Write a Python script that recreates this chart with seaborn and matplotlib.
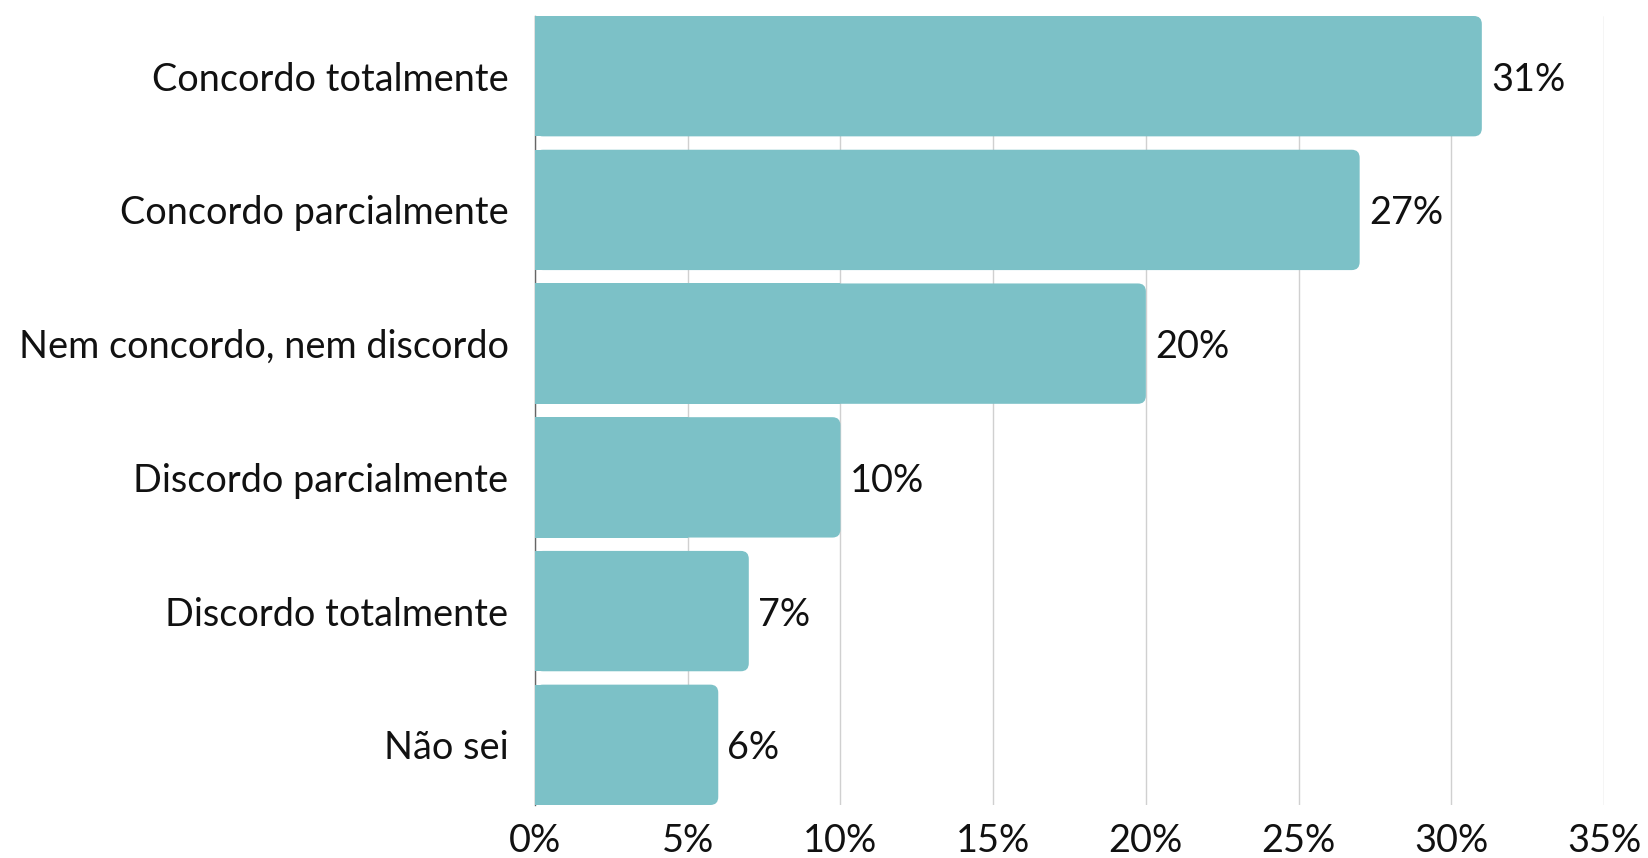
import matplotlib
matplotlib.use("Agg")
import matplotlib.pyplot as plt
import seaborn as sns
import pandas as pd
from matplotlib.patches import FancyBboxPatch, Rectangle
from matplotlib.ticker import FuncFormatter

categories = ["Concordo totalmente", "Concordo parcialmente", "Nem concordo, nem discordo",
              "Discordo parcialmente", "Discordo totalmente", "Não sei"]
values = [31, 27, 20, 10, 7, 6]
x_ticks = [0, 5, 10, 15, 20, 25, 30, 35]

sns.set_theme(style="white")
plt.rcParams['font.family'] = ['Lato', 'DejaVu Sans']

color = "#7cc1c7"
fs = 27.3
df = pd.DataFrame({"cat": categories, "val": values})

fig = plt.figure(figsize=(16.49, 8.58), dpi=100)
ax = fig.add_axes([535/1649, 1-805/858, (1604-535)/1649, (805-16)/858])
sns.barplot(data=df, y="cat", x="val", ax=ax, color=color, width=0.9, saturation=1, orient="h")

ax.set_xlim(0, 35)
ax.set_ylim(5.45, -0.45)
ax.set_xticks(x_ticks)
ax.xaxis.set_major_formatter(FuncFormatter(lambda v, p: f"{int(v)}%"))
ax.grid(axis="x", color="#d0d0d0", linewidth=1)
ax.set_axisbelow(True)
for s in ["top", "right", "bottom"]:
    ax.spines[s].set_visible(False)
ax.spines["left"].set_color("#666666")
ax.spines["left"].set_linewidth(1)
ax.tick_params(axis="y", length=0, pad=19, labelsize=fs, labelcolor="#111111")
ax.tick_params(axis="x", length=0, pad=13, labelsize=fs, labelcolor="#111111")
ax.set_xlabel("")
ax.set_ylabel("")

rx = 0.26
aspect = 0.06 / 0.26
patches = list(ax.patches)
for p in patches:
    x0, y0 = p.get_x(), p.get_y()
    w, h = p.get_width(), p.get_height()
    p.set_visible(False)
    ax.add_patch(FancyBboxPatch((x0, y0), w, h,
                                boxstyle=f"round,pad=0,rounding_size={rx}",
                                mutation_aspect=aspect, facecolor=color,
                                edgecolor="none", zorder=3))
    ax.add_patch(Rectangle((x0, y0), w / 2, h, facecolor=color, edgecolor="none", zorder=3))
    ax.text(x0 + w + 0.3, y0 + h / 2, f"{w:.0f}%", va="center_baseline", ha="left",
            fontsize=fs, color="#111111", zorder=4)

fig.savefig("out.png", dpi=100)
